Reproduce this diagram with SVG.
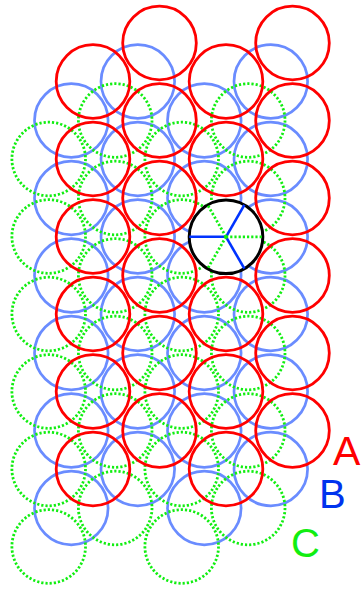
<svg xmlns="http://www.w3.org/2000/svg" xmlns:xlink="http://www.w3.org/1999/xlink" width="361" height="590" viewBox="0 0 361 590">
<style>
.b{fill:none;stroke:#6a8cff;stroke-width:2.7}
.c{fill:none;stroke:#11ee11;stroke-width:2.8;stroke-dasharray:2.2,2}
.a{fill:none;stroke:#ff0000;stroke-width:2.8}
.k{fill:#ffffff;stroke:#000000;stroke-width:3}
.bl{stroke:#0033ff;stroke-width:2.6;fill:none}
.gl{stroke:#11ee11;stroke-width:2.8;stroke-dasharray:2.2,2;fill:none}
text{font-family:"Liberation Sans",Arial,sans-serif}
</style>
<defs>
<circle id="cb" r="36.8" class="b"/>
<circle id="cc" r="36.8" class="c"/>
<circle id="ca" r="36.8" class="a"/>
</defs>
<g id="layerB">
<use xlink:href="#cb" x="71.3" y="120.5"/><use xlink:href="#cb" x="71.3" y="198"/><use xlink:href="#cb" x="71.3" y="275.5"/><use xlink:href="#cb" x="71.3" y="353"/><use xlink:href="#cb" x="71.3" y="430.5"/><use xlink:href="#cb" x="71.3" y="508"/>
<use xlink:href="#cb" x="137.8" y="81.5"/><use xlink:href="#cb" x="137.8" y="159"/><use xlink:href="#cb" x="137.8" y="236.5"/><use xlink:href="#cb" x="137.8" y="314"/><use xlink:href="#cb" x="137.8" y="391.5"/><use xlink:href="#cb" x="137.8" y="469"/>
<use xlink:href="#cb" x="204.3" y="120.5"/><use xlink:href="#cb" x="204.3" y="198"/><use xlink:href="#cb" x="204.3" y="275.5"/><use xlink:href="#cb" x="204.3" y="353"/><use xlink:href="#cb" x="204.3" y="430.5"/><use xlink:href="#cb" x="204.3" y="508"/>
<use xlink:href="#cb" x="270.8" y="81.5"/><use xlink:href="#cb" x="270.8" y="159"/><use xlink:href="#cb" x="270.8" y="236.5"/><use xlink:href="#cb" x="270.8" y="314"/><use xlink:href="#cb" x="270.8" y="391.5"/><use xlink:href="#cb" x="270.8" y="469"/>
</g>
<g id="layerC">
<use xlink:href="#cc" x="48.7" y="159"/><use xlink:href="#cc" x="48.7" y="236.5"/><use xlink:href="#cc" x="48.7" y="314"/><use xlink:href="#cc" x="48.7" y="391.5"/><use xlink:href="#cc" x="48.7" y="469"/><use xlink:href="#cc" x="48.7" y="546.5"/>
<use xlink:href="#cc" x="115.2" y="120.5"/><use xlink:href="#cc" x="115.2" y="198"/><use xlink:href="#cc" x="115.2" y="275.5"/><use xlink:href="#cc" x="115.2" y="353"/><use xlink:href="#cc" x="115.2" y="430.5"/><use xlink:href="#cc" x="115.2" y="508"/>
<use xlink:href="#cc" x="181.7" y="159"/><use xlink:href="#cc" x="181.7" y="236.5"/><use xlink:href="#cc" x="181.7" y="314"/><use xlink:href="#cc" x="181.7" y="391.5"/><use xlink:href="#cc" x="181.7" y="469"/><use xlink:href="#cc" x="181.7" y="546.5"/>
<use xlink:href="#cc" x="248.2" y="120.5"/><use xlink:href="#cc" x="248.2" y="198"/><use xlink:href="#cc" x="248.2" y="275.5"/><use xlink:href="#cc" x="248.2" y="353"/><use xlink:href="#cc" x="248.2" y="430.5"/><use xlink:href="#cc" x="248.2" y="508"/>
</g>
<g id="layerA">
<use xlink:href="#ca" x="93" y="81.5"/><use xlink:href="#ca" x="93" y="159"/><use xlink:href="#ca" x="93" y="236.5"/><use xlink:href="#ca" x="93" y="314"/><use xlink:href="#ca" x="93" y="391.5"/><use xlink:href="#ca" x="93" y="469"/>
<use xlink:href="#ca" x="159.5" y="43"/><use xlink:href="#ca" x="159.5" y="120.5"/><use xlink:href="#ca" x="159.5" y="198"/><use xlink:href="#ca" x="159.5" y="275.5"/><use xlink:href="#ca" x="159.5" y="353"/><use xlink:href="#ca" x="159.5" y="430.5"/>
<use xlink:href="#ca" x="226" y="81.5"/><use xlink:href="#ca" x="226" y="159"/><use xlink:href="#ca" x="226" y="314"/><use xlink:href="#ca" x="226" y="391.5"/><use xlink:href="#ca" x="226" y="469"/>
<use xlink:href="#ca" x="292.5" y="43"/><use xlink:href="#ca" x="292.5" y="120.5"/><use xlink:href="#ca" x="292.5" y="198"/><use xlink:href="#ca" x="292.5" y="275.5"/><use xlink:href="#ca" x="292.5" y="353"/><use xlink:href="#ca" x="292.5" y="430.5"/>
</g>
<g id="highlight">
<circle cx="226" cy="236.8" r="36.8" class="k"/>
<g id="connectors">
<line x1="226" y1="236.8" x2="189.2" y2="236.8" class="bl"/>
<line x1="226" y1="236.8" x2="244.4" y2="204.9" class="bl"/>
<line x1="226" y1="236.8" x2="244.4" y2="268.7" class="bl"/>
<line x1="226" y1="236.8" x2="262.8" y2="236.8" class="gl"/>
<line x1="226" y1="236.8" x2="206.9" y2="203.7" class="gl"/>
<line x1="226" y1="236.8" x2="207.6" y2="268.7" class="gl"/>
</g>
</g>
<g id="labels">
<text x="333" y="465" font-size="41" fill="#ff0000">A</text>
<text x="319" y="508" font-size="40" fill="#0033ee">B</text>
<text x="291" y="556.5" font-size="40" fill="#11ee11">C</text>
</g>
</svg>
